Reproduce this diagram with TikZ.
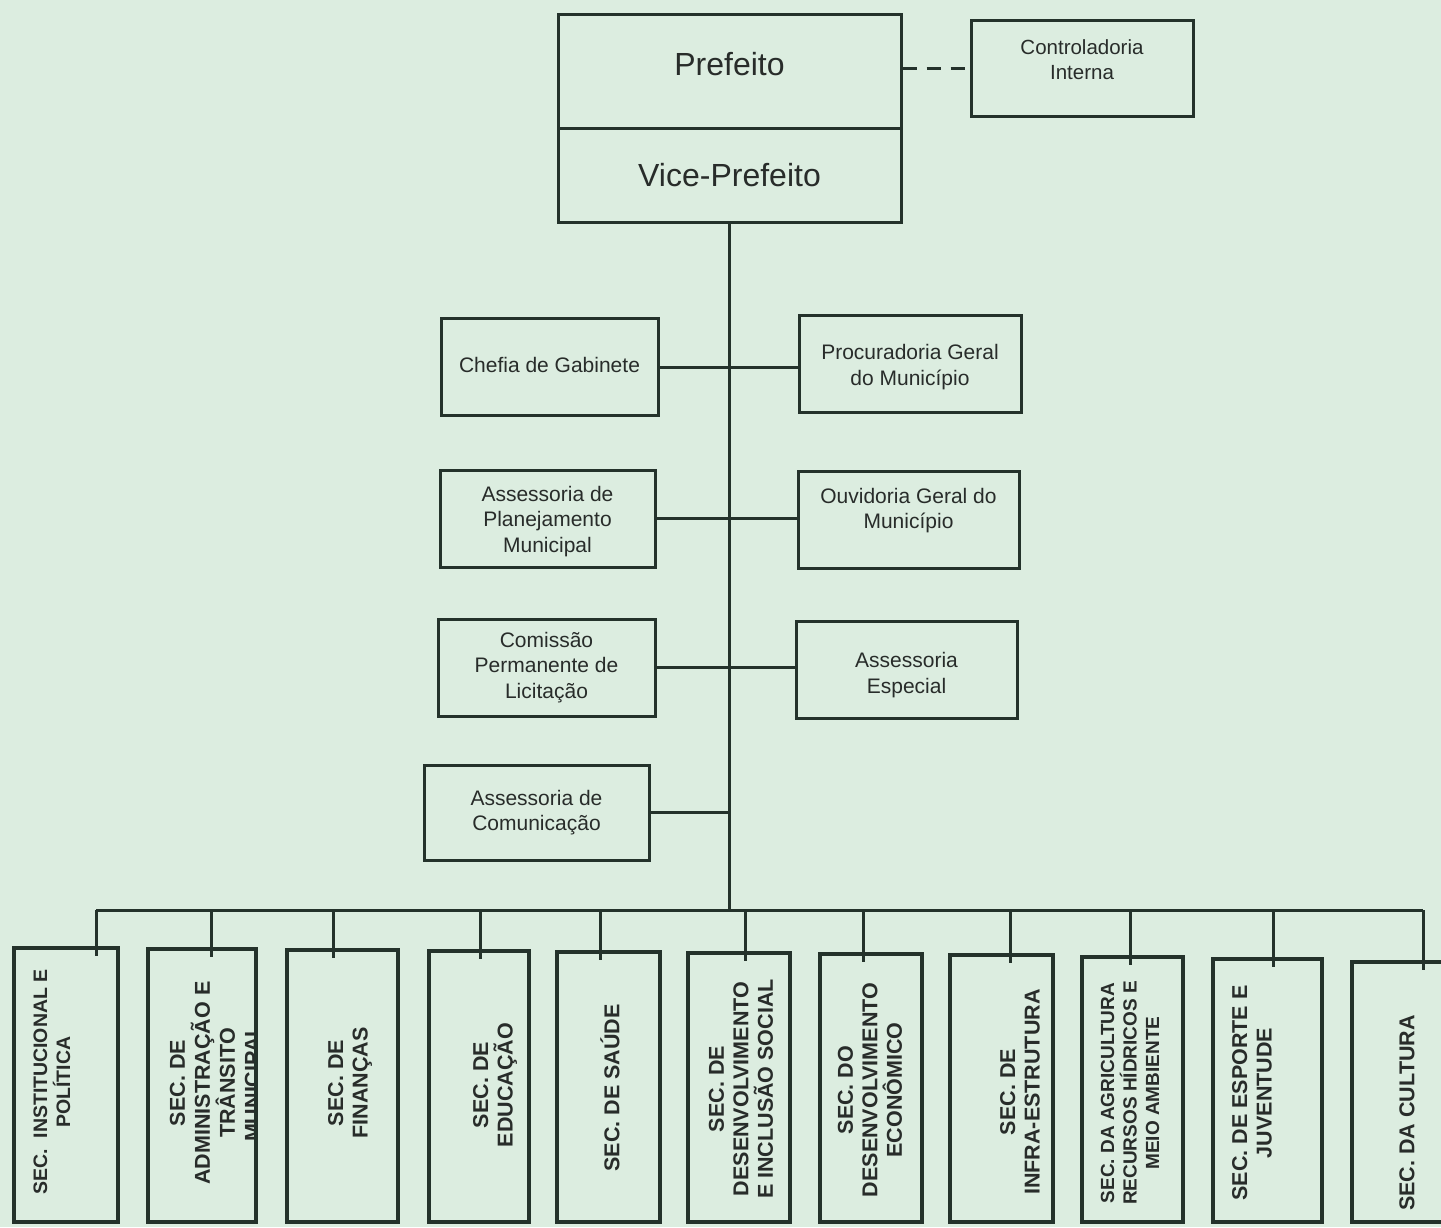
\documentclass[tikz,border=0pt]{standalone}
\usepackage{fontspec}
\setmainfont{Liberation Sans}
\usetikzlibrary{calc}
\definecolor{bgc}{RGB}{220,237,224}
\definecolor{linec}{RGB}{36,50,43}
\definecolor{txtc}{RGB}{40,44,42}
\newcommand{\dn}[1]{\rule[-#1]{0pt}{0pt}}
\newcommand{\up}[1]{\rule{0pt}{#1}}
\begin{document}
\begin{tikzpicture}[x=1pt,y=-1pt,
  box/.style={draw=linec, line width=3pt, text=txtc, align=center, inner sep=2pt},
  bigbox/.style={box, minimum width=343pt, font=\fontsize{32}{38}\selectfont},
  midbox/.style={box, minimum height=97pt, font=\fontsize{21}{25.5}\selectfont},
  ctrlbox/.style={box, font=\fontsize{20.5}{25}\selectfont},
  secbox/.style={draw=linec, line width=4.5pt, inner sep=0pt},
  sectext/.style={text=txtc, align=center, rotate=90, inner sep=0pt,
    font=\bfseries\fontsize{21.5}{24.5}\selectfont},
  sectextsm/.style={sectext, font=\bfseries\fontsize{19}{22.5}\selectfont},
  conn/.style={draw=linec, line width=3pt},
  dashconn/.style={draw=linec, line width=3pt, dash pattern=on 14pt off 10pt}]
\fill[bgc] (0,0) rectangle (1441,1227);
\useasboundingbox (0,0) rectangle (1441,1227);

% top
\node[bigbox, minimum height=114pt] (pref) at (729.5,71) {Prefeito\dn{14pt}};
\node[bigbox, minimum height=94pt] (vice) at (729.5,175) {Vice-Prefeito};
\node[ctrlbox, minimum width=222pt, minimum height=96pt] (ctrl) at (1082,68) {Controladoria\\Interna\dn{16pt}};
\draw[dashconn] (pref.east |- ctrl.west) -- (ctrl.west);

% middle
\node[midbox, minimum width=217pt] (chefia) at (549.5,367) {Chefia de Gabinete\dn{4pt}};
\node[midbox, minimum width=222pt] (proc) at (910,363.5) {\up{22pt}Procuradoria Geral\\do Município};
\node[midbox, minimum width=215pt] (plan) at (547.5,518.5) {\up{21pt}Assessoria de\\Planejamento\\Municipal};
\node[midbox, minimum width=221pt] (ouv) at (908.5,519.5) {Ouvidoria Geral do\\Município\dn{22pt}};
\node[midbox, minimum width=217pt] (com) at (546.5,667.5) {Comissão\\Permanente de\\Licitação};
\node[midbox, minimum width=221pt] (esp) at (906.5,669.5) {\up{26pt}Assessoria\\Especial};
\node[midbox, minimum width=225pt, minimum height=95pt] (comu) at (536.5,812.5) {Assessoria de\\Comunicação};

% bus
\coordinate (busL) at (96,910);
\coordinate (busR) at (1423,910);
\draw[conn] (vice.south) -- (vice.south |- busL);
\draw[conn] (chefia.east) -- (chefia.east -| proc.west);
\draw[conn] (plan.east) -- (plan.east -| ouv.west);
\draw[conn] (com.east) -- (com.east -| esp.west);
\draw[conn] (comu.east) -- (comu.east -| vice.south);
\draw[conn] (busL) -- (busR);

% secretarias: text first (box 2 is clipped), then boxes
\node[sectext, font=\bfseries\fontsize{19.5}{23}\selectfont] (t1) at (52,1082) {SEC.\ \ INSTITUCIONAL E\\POLÍTICA};
\begin{scope}
  \clip (148,950) rectangle (253,1222);
  \node[sectext, font=\bfseries\fontsize{21.5}{25}\selectfont] (t2) at (215,1083) {SEC. DE\\ADMINISTRAÇÃO E\\TRÂNSITO\\MUNICIPAL};
\end{scope}
\node[sectext] (t3) at (350,1083) {SEC. DE\\FINANÇAS};
\node[sectext] (t4) at (495,1085) {SEC. DE\\EDUCAÇÃO};
\node[sectext] (t5) at (610,1088) {SEC. DE SAÚDE};
\node[sectext] (t6) at (741,1089) {SEC. DE\\DESENVOLVIMENTO\\E INCLUSÃO SOCIAL};
\node[sectext] (t7) at (870,1090) {SEC. DO\\DESENVOLVIMENTO\\ECONÔMICO};
\node[sectext] (t8) at (1020,1092) {SEC. DE\\INFRA-ESTRUTURA};
\node[sectextsm] (t9) at (1130,1093) {SEC. DA AGRICULTURA\\RECURSOS HÍDRICOS E\\MEIO AMBIENTE};
\node[sectext] (t10) at (1252,1093) {SEC. DE ESPORTE E\\JUVENTUDE};
\node[sectext] (t11) at (1407,1113) {SEC. DA CULTURA};

\node[secbox, minimum width=104pt, minimum height=274pt] (s1) at (66,1085) {};
\node[secbox, minimum width=108pt, minimum height=273pt] (s2) at (202,1085.5) {};
\node[secbox, minimum width=111pt, minimum height=272pt] (s3) at (342.5,1086) {};
\node[secbox, minimum width=100pt, minimum height=271pt] (s4) at (479,1086.5) {};
\node[secbox, minimum width=103pt, minimum height=270pt] (s5) at (608.5,1087) {};
\node[secbox, minimum width=102pt, minimum height=269pt] (s6) at (739,1087.5) {};
\node[secbox, minimum width=102pt, minimum height=268pt] (s7) at (871,1088) {};
\node[secbox, minimum width=103pt, minimum height=267pt] (s8) at (1001.5,1088.5) {};
\node[secbox, minimum width=101pt, minimum height=265pt] (s9) at (1132.5,1089.5) {};
\node[secbox, minimum width=109pt, minimum height=263pt] (s10) at (1267.5,1090.5) {};
\node[secbox, minimum width=106pt, minimum height=260pt] (s11) at (1405,1092) {};

% ticks
\foreach \i/\tx in {1/96,2/211,3/333,4/480,5/600,6/745,7/863,8/1010,9/1130,10/1273,11/1423}{
  \coordinate (b\i) at (\tx,910);
  \draw[conn] (b\i) -- ($(b\i |- s\i.north)+(0,10)$);
}
\end{tikzpicture}
\end{document}
